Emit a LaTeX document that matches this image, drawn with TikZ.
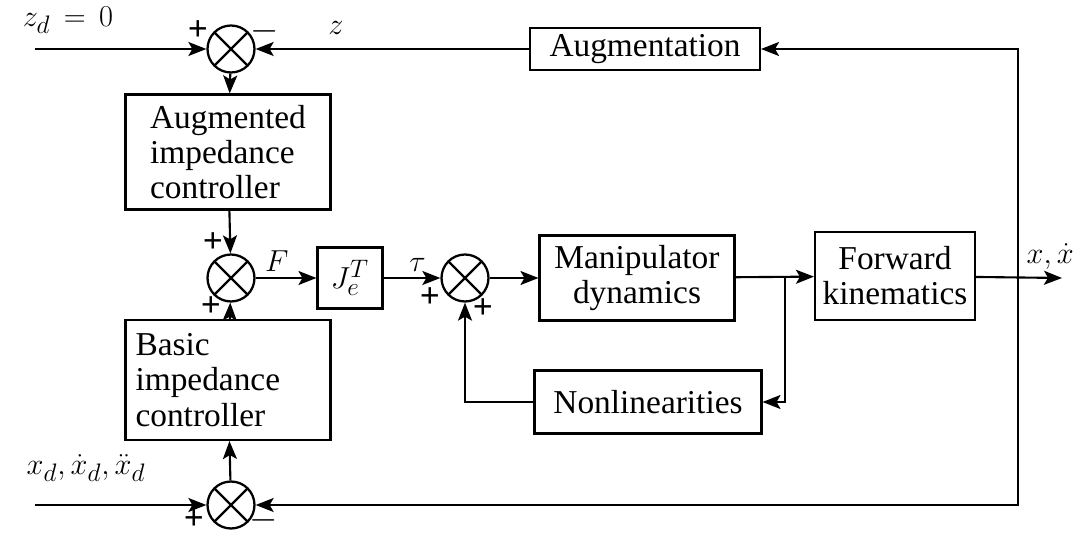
\documentclass[tikz,border=0pt]{standalone}
\usepackage{fontspec}
\setmainfont{Liberation Serif}
\usepackage{tikz}
\usetikzlibrary{positioning}
\usetikzlibrary{arrows.meta}

\begin{document}
\begin{tikzpicture}[x=0.02cm, y=-0.02cm,
        every node/.style={font=\fontsize{19}{20}\selectfont},
        blocknode/.style={rectangle, draw=black, fill=white, line width=1.2pt, inner sep=2pt},
        sumnode/.style={circle, draw=black, fill=white, line width=1.3pt, minimum size=0.94cm, inner sep=0pt,
            path picture={\draw[line width=1.3pt] (path picture bounding box.south west) -- (path picture bounding box.north east)
                (path picture bounding box.north west) -- (path picture bounding box.south east);}},
        signnode/.style={inner sep=0pt, font=\fontsize{20}{20}\bfseries\selectfont},
        link/.style={line width=1.2pt, -{Stealth[length=3.6mm, width=2.8mm, inset=0.8mm]}},
    ]
    \useasboundingbox (0,0) rectangle (1080,533);

    % Objects
    \node[sumnode] (sumTop) at (231,49) {};
    \node[sumnode] (sumForce) at (231,278) {};
    \node[sumnode] (sumTorque) at (465,278) {};
    \node[sumnode] (sumBottom) at (231,505) {};

    \node[blocknode, minimum width=4.6cm, minimum height=0.84cm] (augmentation) at (645,49) {Augmentation};
    \node[blocknode, minimum width=4.1cm, minimum height=2.3cm, align=left] (augController) at (228,152) {Augmented\\impedance\\controller};
    \node[blocknode, minimum width=4.1cm, minimum height=2.4cm, align=left, text width=3.7cm] (basicController) at (228,380) {Basic\\impedance\\controller};
    \node[blocknode, minimum width=1.3cm, minimum height=1.22cm] (jacobian) at (350,278) {$J_e^T$};
    \node[blocknode, minimum width=3.9cm, minimum height=1.7cm, align=center] (manipulator) at (637,278) {Manipulator\\dynamics};
    \node[blocknode, minimum width=3.2cm, minimum height=1.76cm, align=center] (forwardKin) at (895,276) {Forward\\kinematics};
    \node[blocknode, minimum width=4.54cm, minimum height=1.26cm] (nonlinear) at (648,402) {Nonlinearities};

    \coordinate (zdIn) at (35,49);
    \coordinate (xdIn) at (35,505);
    \coordinate (feedbackTap) at (1018,278);
    \coordinate (outEnd) at (1062,278);
    \coordinate (branch) at (785,278);

    % Labels
    \node (zdLabel) at (68,20) {$z_d\,=\,0$};
    \node (zLabel) at (336,28) {$z$};
    \node (xdLabel) at (86,468) {$x_d, \dot{x}_d, \ddot{x}_d$};
    \node[anchor=east, font=\fontsize{16}{16}\selectfont] (xLabel) at (1080,256) {$x,\dot{x}$};
    \node[signnode] (topPlus) at (198,31) {+};
    \node[signnode] (topMinus) at (265,31) {$-$};
    \node[signnode] (forcePlusA) at (213,243) {+};
    \node[signnode] (forcePlusB) at (211,307) {+};
    \node[signnode] (torquePlusA) at (430,298) {+};
    \node[signnode] (torquePlusB) at (483,309) {+};
    \node[signnode] (bottomPlus) at (194,520) {+};
    \node[signnode] (bottomMinus) at (264,520) {$-$};

    % Lines
    \draw[link] (zdIn) -- (sumTop);
    \draw[link] (feedbackTap) |- (augmentation);
    \draw[link] (augmentation) -- (sumTop);
    \draw[link] (sumTop) -- (augController);
    \draw[link] (augController) -- (sumForce);
    \draw[link] (basicController) -- (sumForce);
    \draw[link] (sumBottom) -- (basicController);
    \draw[link] (xdIn) -- (sumBottom);
    \draw[link] (feedbackTap) |- (sumBottom);
    \draw[link] (sumForce) -- node[above, pos=0.35] {$F$} (jacobian);
    \draw[link] (jacobian) -- node[above, pos=0.6] {$\tau$} (sumTorque);
    \draw[link] (sumTorque) -- (manipulator);
    \draw[link] (manipulator) -- (forwardKin);
    \draw[link] (branch) |- (nonlinear);
    \draw[link] (nonlinear) -| (sumTorque);
    \draw[link] (forwardKin) -- (outEnd);

\end{tikzpicture}
\end{document}
